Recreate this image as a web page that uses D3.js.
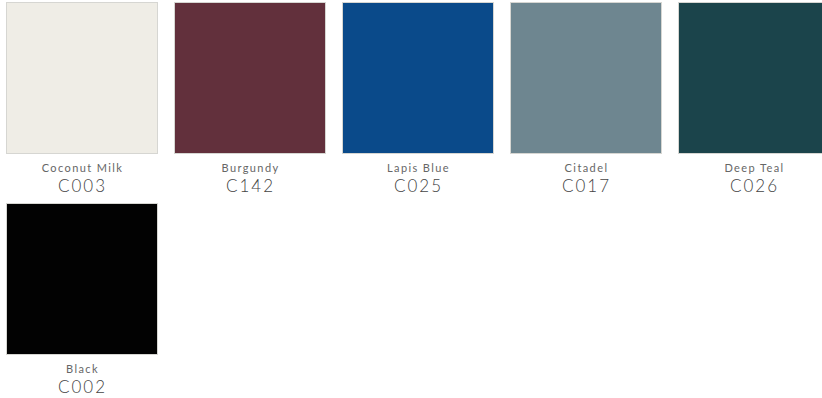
<!DOCTYPE html>
<html>
<head>
<meta charset="utf-8">
<script src="https://cdn.jsdelivr.net/npm/d3@7"></script>
<style>
  body { margin: 0; background: #fff; }
</style>
</head>
<body>
<div id="chart"></div>
<script>
// swatch data
let names = ["Coconut Milk", "Burgundy", "Lapis Blue", "Citadel", "Deep Teal", "Black"];
let codes = ["C003", "C142", "C025", "C017", "C026", "C002"];
let colors = ["#efede6", "#62303c", "#0a4a8a", "#6e8690", "#1b444b", "#020202"];

let width = 822, height = 398;
let perRow = 5;
let size = 151;

let svg = d3.select("#chart").append("svg")
    .attr("width", width)
    .attr("height", height);

let swatches = names.map((n, i) => ({name: n, code: codes[i], color: colors[i], col: i % perRow, row: Math.floor(i / perRow)}));

// column / row positions
let x = d3.scaleLinear().domain([0, 1]).range([6, 174]);
let y = d3.scaleLinear().domain([0, 1]).range([2, 203]);

let g = svg.selectAll(".swatch")
    .data(swatches)
    .enter().append("g")
    .attr("class", "swatch")
    .attr("transform", d => `translate(${x(d.col)}, ${y(d.row)})`);

g.append("rect")
    .attr("x", 0.5)
    .attr("y", 0.5)
    .attr("width", size)
    .attr("height", size)
    .attr("fill", d => d.color)
    .attr("stroke", "#d6d6d2")
    .attr("stroke-width", 1);

g.append("text")
    .attr("x", size / 2 + 1)
    .attr("y", 170)
    .attr("text-anchor", "middle")
    .attr("font-family", "Lato, sans-serif")
    .attr("font-size", "11px")
    .attr("letter-spacing", "1.4px")
    .attr("fill", "#666")
    .text(d => d.name);

g.append("text")
    .attr("x", size / 2 + 1)
    .attr("y", 190)
    .attr("text-anchor", "middle")
    .attr("font-family", "Lato, sans-serif")
    .attr("font-weight", 300)
    .attr("font-size", "17px")
    .attr("letter-spacing", "2px")
    .attr("fill", "#444")
    .text(d => d.code);
</script>
</body>
</html>
